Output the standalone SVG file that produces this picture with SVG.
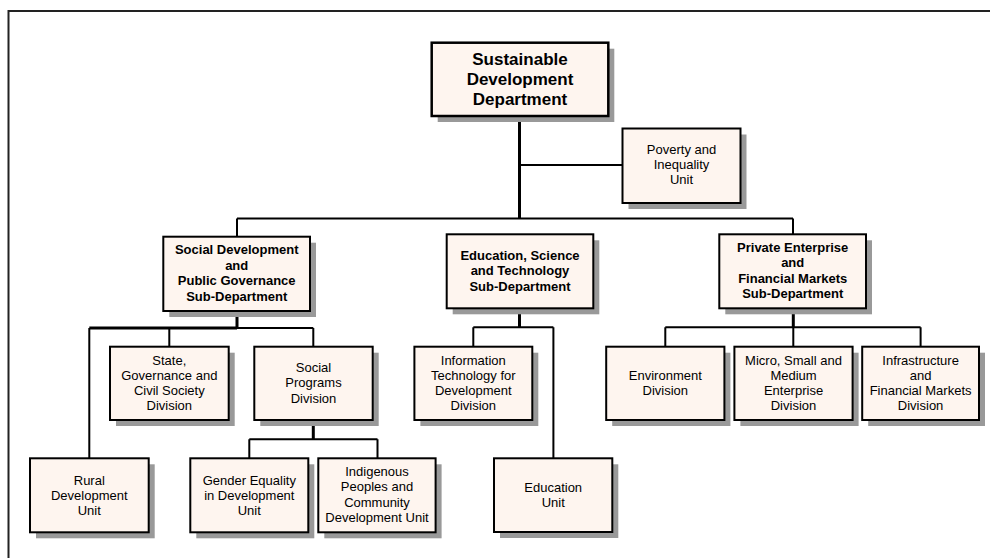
<svg xmlns="http://www.w3.org/2000/svg" width="990" height="558" viewBox="0 0 990 558">
<style>
  .sh{fill:#999999;stroke:none}
  .bx{fill:#FEF5EF;stroke:#000;stroke-width:2}
  .top{stroke-width:2.5}
  .t{font-family:"Liberation Sans",Arial,sans-serif;font-size:13px;fill:#000;text-anchor:middle}
  .b{font-weight:bold}
  .big{font-size:17px;font-weight:bold}
  .c{fill:none;stroke:#000;stroke-width:2}
  .k{stroke-width:3}
</style>
<rect width="990" height="558" fill="#fff"/>
<path d="M8.5,558 V11 H990" fill="none" stroke="#222" stroke-width="2"/>

<g id="connectors">
  <path class="c k" d="M519.5,116 V218.5"/>
  <path class="c" d="M519.5,165 H622.5"/>
  <path class="c" d="M237,218.5 H793 M237,218.5 V236.7 M793,218.5 V234.3"/>
  <path class="c k" d="M237,311 V328 M89.3,328 H237"/>
  <path class="c" d="M237,328 H313.3 M89.3,328 V458.3 M169.3,328 V346.7 M313.3,328 V346.7"/>
  <path class="c k" d="M313.3,420 V439.3"/>
  <path class="c" d="M249.3,439.3 H377.5 M249.3,439.3 V458.3 M377.5,439.3 V458.3"/>
  <path class="c k" d="M519.5,308.3 V327.3"/>
  <path class="c" d="M473.3,327.3 H553.4 M473.3,327.3 V346.7 M553.4,327.3 V458.3"/>
  <path class="c k" d="M793.3,308.3 V327.3"/>
  <path class="c" d="M665.3,327.3 H920.6 M665.3,327.3 V346.7 M793.3,327.3 V346.7 M920.6,327.3 V346.7"/>
</g>

<g id="sdd">
  <rect class="sh" x="437.7" y="48.7" width="176.6" height="73.3"/>
  <rect class="bx top" x="431.7" y="42.7" width="176.6" height="73.3"/>
  <text class="t big" x="520" y="64.5">Sustainable</text>
  <text class="t big" x="520" y="84.5">Development</text>
  <text class="t big" x="520" y="104.5">Department</text>
</g>

<g id="poverty">
  <rect class="sh" x="628.5" y="134.5" width="118" height="74.5"/>
  <rect class="bx" x="622.5" y="128.5" width="118" height="74.5"/>
  <text class="t" x="681.5" y="154">Poverty and</text>
  <text class="t" x="681.5" y="169">Inequality</text>
  <text class="t" x="681.5" y="184">Unit</text>
</g>

<g id="social-dev">
  <rect class="sh" x="169.3" y="242.7" width="146.7" height="74.3"/>
  <rect class="bx" x="163.3" y="236.7" width="146.7" height="74.3"/>
  <text class="t b" x="236.7" y="254">Social Development</text>
  <text class="t b" x="236.7" y="269.5">and</text>
  <text class="t b" x="236.7" y="285">Public Governance</text>
  <text class="t b" x="236.7" y="300.5">Sub-Department</text>
</g>

<g id="education-sub">
  <rect class="sh" x="452.7" y="240.3" width="146.6" height="74"/>
  <rect class="bx" x="446.7" y="234.3" width="146.6" height="74"/>
  <text class="t b" x="520" y="259.5">Education, Science</text>
  <text class="t b" x="520" y="274.5">and Technology</text>
  <text class="t b" x="520" y="290.5">Sub-Department</text>
</g>

<g id="private-sub">
  <rect class="sh" x="725.3" y="240.3" width="146.7" height="74"/>
  <rect class="bx" x="719.3" y="234.3" width="146.7" height="74"/>
  <text class="t b" x="792.7" y="252">Private Enterprise</text>
  <text class="t b" x="792.7" y="267">and</text>
  <text class="t b" x="792.7" y="282.5">Financial Markets</text>
  <text class="t b" x="792.7" y="298">Sub-Department</text>
</g>

<g id="state">
  <rect class="sh" x="116" y="352.7" width="118.7" height="73.3"/>
  <rect class="bx" x="110" y="346.7" width="118.7" height="73.3"/>
  <text class="t" x="169.3" y="364.5">State,</text>
  <text class="t" x="169.3" y="379.5">Governance and</text>
  <text class="t" x="169.3" y="395">Civil Society</text>
  <text class="t" x="169.3" y="410">Division</text>
</g>

<g id="social-programs">
  <rect class="sh" x="260.3" y="352.7" width="118.4" height="73.3"/>
  <rect class="bx" x="254.3" y="346.7" width="118.4" height="73.3"/>
  <text class="t" x="313.5" y="372">Social</text>
  <text class="t" x="313.5" y="387">Programs</text>
  <text class="t" x="313.5" y="403">Division</text>
</g>

<g id="rural">
  <rect class="sh" x="36" y="464.3" width="118.7" height="74"/>
  <rect class="bx" x="30" y="458.3" width="118.7" height="74"/>
  <text class="t" x="89.3" y="484.5">Rural</text>
  <text class="t" x="89.3" y="499.5">Development</text>
  <text class="t" x="89.3" y="514.5">Unit</text>
</g>

<g id="gender">
  <rect class="sh" x="196.3" y="464.3" width="118" height="74"/>
  <rect class="bx" x="190.3" y="458.3" width="118" height="74"/>
  <text class="t" x="249.3" y="484.5">Gender Equality</text>
  <text class="t" x="249.3" y="499.5">in Development</text>
  <text class="t" x="249.3" y="514.5">Unit</text>
</g>

<g id="indigenous">
  <rect class="sh" x="324.3" y="464.3" width="117.3" height="74"/>
  <rect class="bx" x="318.3" y="458.3" width="117.3" height="74"/>
  <text class="t" x="377" y="476">Indigenous</text>
  <text class="t" x="377" y="491">Peoples and</text>
  <text class="t" x="377" y="507">Community</text>
  <text class="t" x="377" y="522">Development Unit</text>
</g>

<g id="info-tech">
  <rect class="sh" x="420.4" y="352.7" width="117.9" height="73.3"/>
  <rect class="bx" x="414.4" y="346.7" width="117.9" height="73.3"/>
  <text class="t" x="473.3" y="364.5">Information</text>
  <text class="t" x="473.3" y="379.5">Technology for</text>
  <text class="t" x="473.3" y="395">Development</text>
  <text class="t" x="473.3" y="410">Division</text>
</g>

<g id="education-unit">
  <rect class="sh" x="500" y="464.3" width="118.3" height="73.7"/>
  <rect class="bx" x="494" y="458.3" width="118.3" height="73.7"/>
  <text class="t" x="553.2" y="492">Education</text>
  <text class="t" x="553.2" y="507">Unit</text>
</g>

<g id="environment">
  <rect class="sh" x="612.2" y="352.7" width="118.2" height="73.3"/>
  <rect class="bx" x="606.2" y="346.7" width="118.2" height="73.3"/>
  <text class="t" x="665.3" y="380">Environment</text>
  <text class="t" x="665.3" y="395">Division</text>
</g>

<g id="micro">
  <rect class="sh" x="740.4" y="352.7" width="118.2" height="73.3"/>
  <rect class="bx" x="734.4" y="346.7" width="118.2" height="73.3"/>
  <text class="t" x="793.5" y="364.5">Micro, Small and</text>
  <text class="t" x="793.5" y="379.5">Medium</text>
  <text class="t" x="793.5" y="395">Enterprise</text>
  <text class="t" x="793.5" y="410">Division</text>
</g>

<g id="infrastructure">
  <rect class="sh" x="868.2" y="352.7" width="116.8" height="73.3"/>
  <rect class="bx" x="862.2" y="346.7" width="116.8" height="73.3"/>
  <text class="t" x="920.6" y="364.5">Infrastructure</text>
  <text class="t" x="920.6" y="379.5">and</text>
  <text class="t" x="920.6" y="395">Financial Markets</text>
  <text class="t" x="920.6" y="410">Division</text>
</g>
</svg>
